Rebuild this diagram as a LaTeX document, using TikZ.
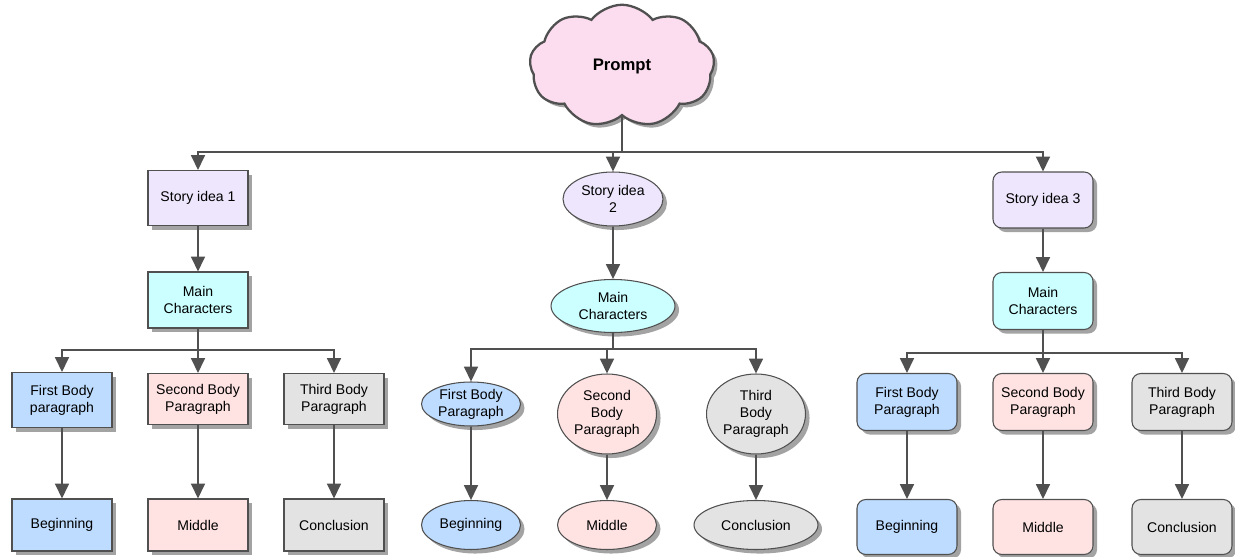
\documentclass[tikz,border=0pt]{standalone}
\usepackage{fontspec}
\setmainfont{Liberation Sans}
\usetikzlibrary{shapes.geometric,shapes.symbols,shadows,arrows.meta}

\definecolor{edgegray}{HTML}{505050}
\definecolor{ideafill}{HTML}{EEE6FC}
\definecolor{charfill}{HTML}{CCFFFF}
\definecolor{firstfill}{HTML}{BDDCFF}
\definecolor{secondfill}{HTML}{FFE3E3}
\definecolor{thirdfill}{HTML}{E3E3E3}
\definecolor{cloudfill}{HTML}{FCDDEF}

\tikzset{
  item/.style={draw=edgegray, line width=0.6pt, align=center, inner sep=0pt,
    font=\fontsize{8}{9.6}\selectfont,
    drop shadow={shadow xshift=2.3pt, shadow yshift=-2.3pt, fill=black!45, opacity=0.8}},
  box/.style={item, rectangle, minimum width=2cm, minimum height=1.1cm},
  rbox/.style={item, rectangle, rounded corners=5pt, minimum width=2cm, minimum height=1.12cm},
  oval/.style={item, ellipse},
  link/.style={draw=edgegray, line width=0.9pt},
  arr/.style={link, -{Triangle[width=8pt,length=8.5pt]}},
}

\begin{document}
\begin{tikzpicture}[x=0.02cm, y=-0.02cm]
  \useasboundingbox (0,0) rectangle (1235,557);

  \node[cloud, cloud puffs=9, cloud puff arc=105, draw=edgegray, line width=1.3pt, fill=cloudfill,
        minimum width=3.7cm, minimum height=2.45cm,
        font=\fontsize{9.5}{11}\selectfont\bfseries,
        drop shadow={shadow xshift=2pt, shadow yshift=-2pt, fill=black!45, opacity=0.8}]
        (prompt) at (622,66) {Prompt};

  % story idea 1
  \node[box, fill=ideafill] (idea1) at (198,198) {Story idea 1};
  \node[box, fill=charfill, minimum height=1.12cm] (char1) at (198,300) {Main\\Characters};
  \node[box, fill=firstfill] (first1) at (62,400) {First Body\\paragraph};
  \node[box, fill=secondfill, minimum height=1.02cm] (second1) at (198,399) {Second Body\\Paragraph};
  \node[box, fill=thirdfill, minimum height=1.02cm] (third1) at (334,399) {Third Body\\Paragraph};
  \node[box, fill=firstfill, minimum height=1.04cm] (begin1) at (62,525) {Beginning};
  \node[box, fill=secondfill, minimum height=1.04cm] (mid1) at (198,525) {Middle};
  \node[box, fill=thirdfill, minimum height=1.04cm] (end1) at (334,525) {Conclusion};

  % story idea 2
  \node[oval, fill=ideafill, minimum width=2cm, minimum height=1.08cm] (idea2) at (613,199) {Story idea\\2};
  \node[oval, fill=charfill, minimum width=2.48cm, minimum height=1.06cm] (char2) at (613,306) {Main\\Characters};
  \node[oval, fill=firstfill, minimum width=1.98cm, minimum height=0.88cm] (first2) at (471,404) {First Body\\Paragraph};
  \node[oval, fill=secondfill, minimum width=1.98cm, minimum height=1.6cm] (second2) at (607,414) {Second\\Body\\Paragraph};
  \node[oval, fill=thirdfill, minimum width=1.98cm, minimum height=1.6cm] (third2) at (756,414) {Third\\Body\\Paragraph};
  \node[oval, fill=firstfill, minimum width=1.98cm, minimum height=0.98cm] (begin2) at (471,525) {Beginning};
  \node[oval, fill=secondfill, minimum width=1.98cm, minimum height=0.98cm] (mid2) at (607,525) {Middle};
  \node[oval, fill=thirdfill, minimum width=2.48cm, minimum height=0.98cm] (end2) at (756,525) {Conclusion};

  % story idea 3
  \node[rbox, fill=ideafill] (idea3) at (1043,200) {Story idea 3};
  \node[rbox, fill=charfill, minimum height=1.14cm] (char3) at (1043,301) {Main\\Characters};
  \node[rbox, fill=firstfill, minimum height=1.14cm] (first3) at (907,402) {First Body\\Paragraph};
  \node[rbox, fill=secondfill, minimum height=1.14cm] (second3) at (1043,402) {Second Body\\Paragraph};
  \node[rbox, fill=thirdfill, minimum height=1.14cm] (third3) at (1182,402) {Third Body\\Paragraph};
  \node[rbox, fill=firstfill, minimum height=1.1cm] (begin3) at (907,527) {Beginning};
  \node[rbox, fill=secondfill, minimum height=1.1cm] (mid3) at (1043,527) {Middle};
  \node[rbox, fill=thirdfill, minimum height=1.1cm] (end3) at (1182,527) {Conclusion};

  % joints
  \coordinate (top) at (622,152);
  \coordinate (fork1) at (198,350);
  \coordinate (fork2) at (613,349);
  \coordinate (fork3) at (1043,353);

  \draw[link] (prompt.south) -- (top);
  \draw[arr] (top) -| (idea1);
  \draw[arr] (top) -| (idea2);
  \draw[arr] (top) -| (idea3);

  \draw[arr] (idea1) -- (char1);
  \draw[arr] (idea2) -- (char2);
  \draw[arr] (idea3) -- (char3);

  \draw[link] (char1) -- (fork1);
  \draw[link] (char2) -- (fork2);
  \draw[link] (char3) -- (fork3);

  \draw[arr] (fork1) -| (first1);
  \draw[arr] (fork1) -- (second1);
  \draw[arr] (fork1) -| (third1);
  \draw[arr] (fork2) -| (first2);
  \draw[arr] (fork2) -| (second2);
  \draw[arr] (fork2) -| (third2);
  \draw[arr] (fork3) -| (first3);
  \draw[arr] (fork3) -- (second3);
  \draw[arr] (fork3) -| (third3);

  \draw[arr] (first1) -- (begin1);
  \draw[arr] (second1) -- (mid1);
  \draw[arr] (third1) -- (end1);
  \draw[arr] (first2) -- (begin2);
  \draw[arr] (second2) -- (mid2);
  \draw[arr] (third2) -- (end2);
  \draw[arr] (first3) -- (begin3);
  \draw[arr] (second3) -- (mid3);
  \draw[arr] (third3) -- (end3);
\end{tikzpicture}
\end{document}
